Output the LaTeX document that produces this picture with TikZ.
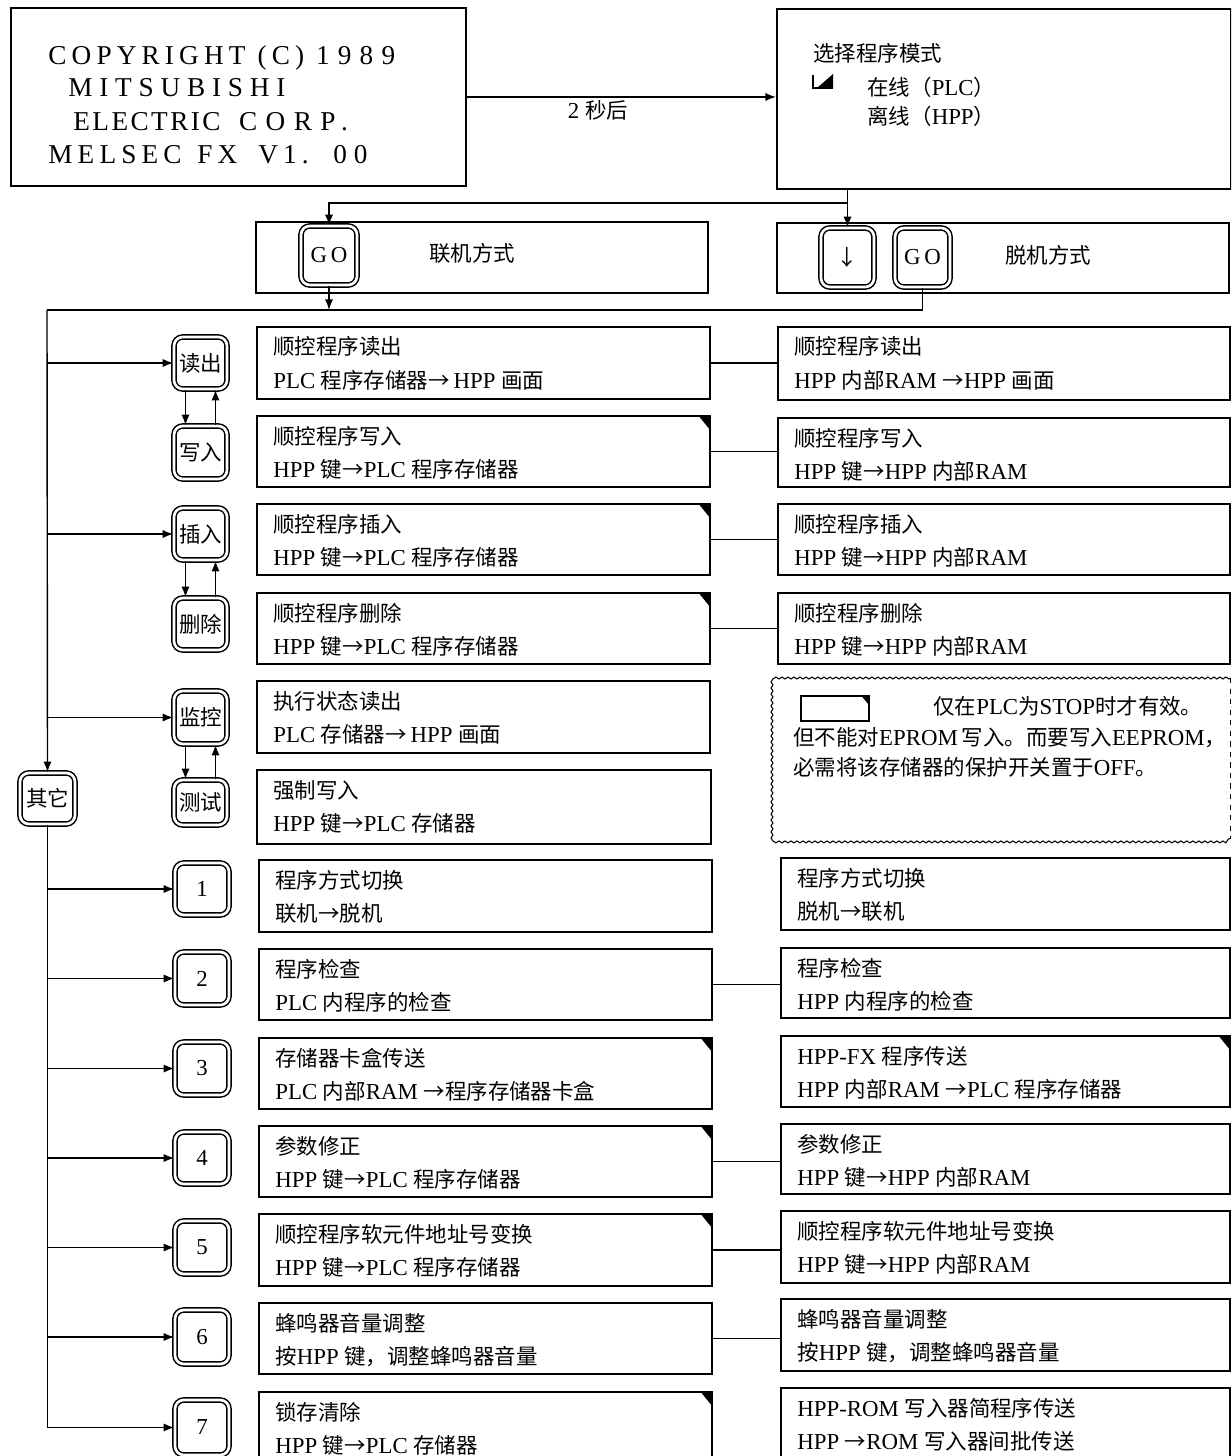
\documentclass[tikz,border=0pt]{standalone}
\usepackage{fontspec}
\setmainfont{Liberation Serif}
\newfontfamily\cjk[Scale=0.94]{Noto Sans CJK SC}
\usetikzlibrary{arrows.meta,calc,decorations.pathmorphing}
\newcommand\zh[1]{{\cjk #1}}
\tikzset{
  x=0.02cm, y=-0.02cm,
  pbox/.style={draw, line width=1.1pt, inner sep=0pt, anchor=north west},
  key/.style={draw, fill=white, line width=0.85pt, double, double distance=1.5pt, rounded corners=5pt, inner sep=0pt, font=\fontsize{13}{15}\selectfont},
  txt/.style={inner sep=0pt, anchor=base west, font=\fontsize{13}{15}\selectfont},
  cpt/.style={inner sep=0pt, anchor=base west, font=\fontsize{15.5}{18}\selectfont},
  ln/.style={line width=0.8pt},
  arr/.style={ln, -{Latex[length=6pt,width=4.6pt]}},
}
\newcommand\bx[5]{\node[pbox, minimum width={(#4-#2)*0.02cm}, minimum height={(#5-#3)*0.02cm}] (#1) at (#2,#3) {};}
\newcommand\tx[4]{\node[txt] (#1) at (#2,#3) {#4};}
\newcommand\rowbox[7]{\bx{#1}{#2}{#3}{#4}{#5}\tx{#1a}{#2+17}{#3+29}{#6}\tx{#1b}{#2+17}{#3+62}{#7}}
\newcommand\corner[1]{\fill (#1.north east) -- ++(-13,0) -- ++(13,16) -- cycle;}
\newcommand\keyn[6]{\node[key, minimum width={(#4-#2-6)*0.02cm}, minimum height={(#5-#3-6)*0.02cm}] (#1) at ({(#2+#4)/2},{(#3+#5)/2}) {#6};}
\begin{document}
\begin{tikzpicture}
\useasboundingbox (0,0) rectangle (1231,1456);
\clip (0,0) rectangle (1231,1456);
% top boxes
\bx{cp}{10}{7}{465}{185}
\node[cpt] (c1) at (48,65) {\addfontfeature{LetterSpace=19}COPYRIGHT (C) {\addfontfeature{LetterSpace=30}1989}};
\node[cpt] (c2) at (68,97) {\addfontfeature{LetterSpace=25}MITSUBISHI};
\node[cpt] (c3) at (73,131) {\addfontfeature{LetterSpace=9}ELECTRIC\ \ {\addfontfeature{LetterSpace=31}CORP.}};
\node[cpt] (c4a) at (48,164) {\addfontfeature{LetterSpace=19}MELSEC};
\node[cpt] (c4b) at (197,164) {\addfontfeature{LetterSpace=19}FX};
\node[cpt] (c4c) at (258,164) {\addfontfeature{LetterSpace=19}V1.};
\node[cpt] (c4d) at (333,164) {\addfontfeature{LetterSpace=25}00};
\bx{sel}{776}{8}{1230}{188}
\tx{s1}{813}{62}{\zh{选择程序模式}}
\tx{s2}{867}{96}{\zh{在线（}PLC\zh{）}}
\tx{s3}{867}{125}{\zh{离线（}HPP\zh{）}}
\draw[line width=0.8pt] (813,75) -- (813,88) -- (833,88);
\fill (817,88) -- (833,74) -- (833,88) -- cycle;
\draw[arr] (cp.east) -- (cp.east -| sel.west);
\node[txt, anchor=center] (t2s) at (598,110) {2 \zh{秒后}};
% mode boxes
\bx{on}{255}{221}{707}{292}
\bx{off}{776}{222}{1228}{292}
\tx{ont}{429}{262}{\zh{联机方式}}
\tx{offt}{1005}{264}{\zh{脱机方式}}
\keyn{go1}{298}{223}{360}{288}{G\,O}
\keyn{dn}{818}{225}{877}{290}{\zh{↓}}
\keyn{go2}{892}{225}{953}{290}{G\,O}
\coordinate (j1) at (847,203);
\draw[arr] (sel.south -| dn) -- (dn.north);
\draw[arr] (j1) -| (go1.north);
\coordinate (tl) at (47,310);
\draw[arr] (go1.south) -- (go1.south |- tl);
\draw[ln] (go2.south) |- (tl);
% left boxes
\rowbox{L1}{256}{326}{709}{398}{\zh{顺控程序读出}}{PLC \zh{程序存储器→}\,HPP \zh{画面}}
\rowbox{L2}{256}{415}{709}{486}{\zh{顺控程序写入}}{HPP \zh{键→}PLC \zh{程序存储器}}
\rowbox{L3}{256}{503}{709}{574}{\zh{顺控程序插入}}{HPP \zh{键→}PLC \zh{程序存储器}}
\rowbox{L4}{256}{592}{709}{663}{\zh{顺控程序删除}}{HPP \zh{键→}PLC \zh{程序存储器}}
\rowbox{L5}{256}{680}{709}{752}{\zh{执行状态读出}}{PLC \zh{存储器→}\,HPP \zh{画面}}
\rowbox{L6}{256}{769}{710}{843}{\zh{强制写入}}{HPP \zh{键→}PLC \zh{存储器}}
\rowbox{L7}{258}{859}{711}{931}{\zh{程序方式切换}}{\zh{联机→脱机}}
\rowbox{L8}{258}{948}{711}{1019}{\zh{程序检查}}{PLC \zh{内程序的检查}}
\rowbox{L9}{258}{1037}{711}{1108}{\zh{存储器卡盒传送}}{PLC \zh{内部}RAM \zh{→程序存储器卡盒}}
\rowbox{L10}{258}{1125}{711}{1196}{\zh{参数修正}}{HPP \zh{键→}PLC \zh{程序存储器}}
\rowbox{L11}{258}{1213}{711}{1285}{\zh{顺控程序软元件地址号变换}}{HPP \zh{键→}PLC \zh{程序存储器}}
\rowbox{L12}{258}{1302}{711}{1373}{\zh{蜂鸣器音量调整}}{\zh{按}HPP \zh{键，调整蜂鸣器音量}}
\rowbox{L13}{258}{1391}{711}{1480}{\zh{锁存清除}}{HPP \zh{键→}PLC \zh{存储器}}
% right boxes
\rowbox{R1}{777}{326}{1229}{399}{\zh{顺控程序读出}}{HPP \zh{内部}RAM \zh{→}HPP \zh{画面}}
\rowbox{R2}{777}{417}{1229}{486}{\zh{顺控程序写入}}{HPP \zh{键→}HPP \zh{内部}RAM}
\rowbox{R3}{777}{503}{1229}{574}{\zh{顺控程序插入}}{HPP \zh{键→}HPP \zh{内部}RAM}
\rowbox{R4}{777}{592}{1229}{663}{\zh{顺控程序删除}}{HPP \zh{键→}HPP \zh{内部}RAM}
\rowbox{R7}{780}{857}{1229}{929}{\zh{程序方式切换}}{\zh{脱机→联机}}
\rowbox{R8}{780}{947}{1229}{1017}{\zh{程序检查}}{HPP \zh{内程序的检查}}
\rowbox{R9}{780}{1035}{1229}{1106}{HPP-FX \zh{程序传送}}{HPP \zh{内部}RAM \zh{→}PLC \zh{程序存储器}}
\rowbox{R10}{780}{1123}{1229}{1193}{\zh{参数修正}}{HPP \zh{键→}HPP \zh{内部}RAM}
\rowbox{R11}{780}{1210}{1229}{1282}{\zh{顺控程序软元件地址号变换}}{HPP \zh{键→}HPP \zh{内部}RAM}
\rowbox{R12}{780}{1298}{1229}{1370}{\zh{蜂鸣器音量调整}}{\zh{按}HPP \zh{键，调整蜂鸣器音量}}
\rowbox{R13}{780}{1387}{1229}{1480}{HPP-ROM \zh{写入器简程序传送}}{HPP \zh{→}ROM \zh{写入器间批传送}}
\foreach \i in {L2,L3,L4,L9,L10,L11,L13,R9} {\corner{\i}}
\foreach \i in {1,2,3,4,8,10,11,12} {\draw[ln] (L\i.east) -- (L\i.east -| R\i.west);}
% keys
\keyn{rd}{171}{334}{230}{392}{\zh{读出}}
\keyn{wr}{171}{423}{230}{482}{\zh{写入}}
\keyn{ins}{171}{505}{230}{563}{\zh{插入}}
\keyn{del}{171}{595}{230}{653}{\zh{删除}}
\keyn{mon}{171}{688}{230}{747}{\zh{监控}}
\keyn{tst}{171}{777}{230}{828}{\zh{测试}}
\keyn{k1}{172}{860}{232}{918}{1}
\keyn{k2}{172}{949}{232}{1008}{2}
\keyn{k3}{172}{1039}{232}{1098}{3}
\keyn{k4}{172}{1129}{232}{1187}{4}
\keyn{k5}{172}{1218}{232}{1277}{5}
\keyn{k6}{172}{1307}{232}{1367}{6}
\keyn{k7}{172}{1397}{232}{1458}{7}
\keyn{oth}{17}{770}{78}{827}{\zh{其它}}
\draw[arr] (tl) -- (oth.north);
\draw[arr] (oth.south) |- (k7.west);
\foreach \k in {rd,ins,mon,k1,k2,k3,k4,k5,k6} {\draw[arr] (tl |- \k.west) -- (\k.west);}
\foreach \a/\b in {rd/wr,ins/del,mon/tst} {
  \draw[arr] ($(\a.south)+(-15,0)$) -- ($(\b.north)+(-15,0)$);
  \draw[arr] ($(\b.north)+(15,0)$) -- ($(\a.south)+(15,0)$);
}
% note
\node[inner sep=0pt, anchor=north west, minimum width={457*0.02cm}, minimum height={160*0.02cm}] (note) at (773,678) {};
\draw[line width=0.6pt, decorate, decoration={snake, segment length=0.12cm, amplitude=0.55pt}] (note.north east) -- (note.north west) -- (note.south west) -- (note.south east);
\draw[line width=0.6pt, dashed] (note.north east) -- (note.south east);
\node[draw, line width=1pt, inner sep=0pt, anchor=north west, minimum width={68*0.02cm}, minimum height={25*0.02cm}] (nb) at (800,695) {};
\fill (nb.north east) -- ++(-9,0) -- ++(9,11) -- cycle;
\tx{n1}{933}{714}{\zh{仅在}PLC\zh{为}STOP\zh{时才有效。}}
\tx{n2}{793}{745}{\zh{但不能对}EPROM\,\zh{写入。而要写入}EEPROM\zh{，}}
\tx{n3}{793}{775}{\zh{必需将该存储器的保护开关置于}OFF\zh{。}}
\end{tikzpicture}
\end{document}
